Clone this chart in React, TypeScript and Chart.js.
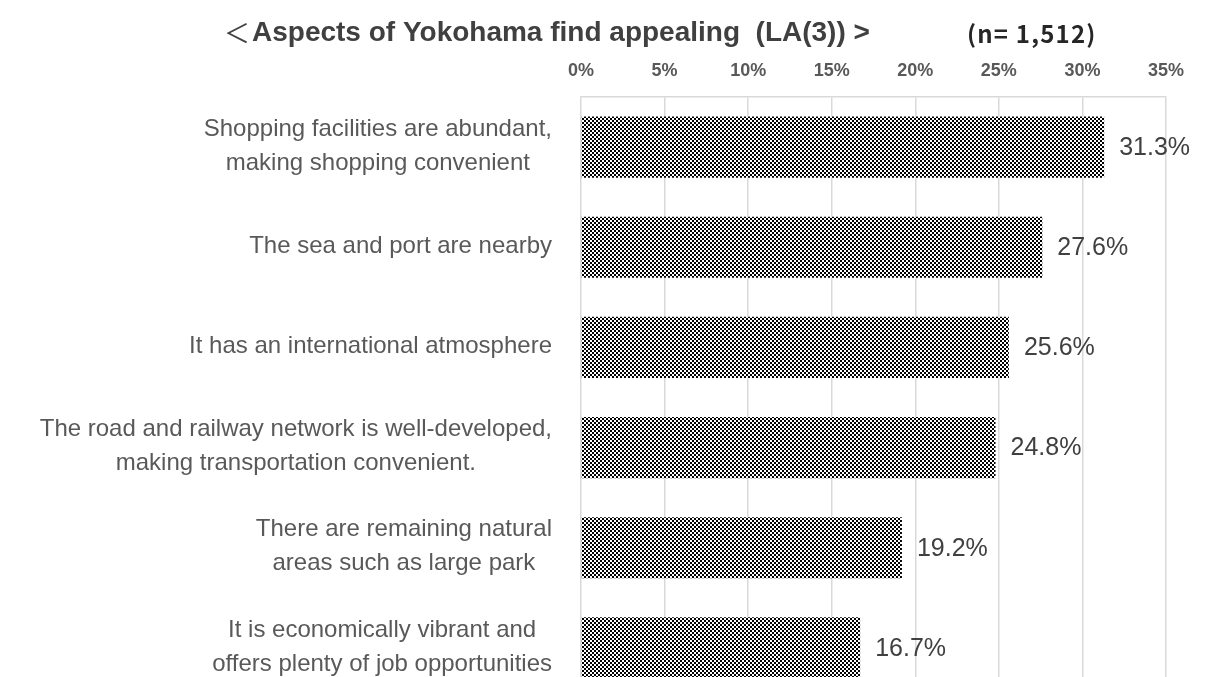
import React, { useEffect, useRef } from "react";
import { Chart, registerables } from "chart.js";

Chart.register(...registerables);

const categories: string[][] = [
  ["Shopping facilities are abundant,", "making shopping convenient"],
  ["The sea and port are nearby"],
  ["It has an international atmosphere"],
  ["The road and railway network is well-developed,", "making transportation convenient."],
  ["There are remaining natural", "areas such as large park"],
  ["It is economically vibrant and", "offers plenty of job opportunities"],
];
const values: number[] = [31.3, 27.6, 25.6, 24.8, 19.2, 16.7];
const xTicks: number[] = [0, 5, 10, 15, 20, 25, 30, 35];
const titleMark = "＜";
const titleText = "Aspects of Yokohama find appealing  (LA(3)) >";
const sampleText = "(n= 1,512)";

const LABEL_FONT = "24px 'Liberation Sans', Arial, sans-serif";
const VALUE_FONT = "25px 'Liberation Sans', Arial, sans-serif";

function makePattern(): CanvasPattern | string {
  const pc = document.createElement("canvas");
  pc.width = 4;
  pc.height = 4;
  const c = pc.getContext("2d");
  if (!c) return "#808080";
  c.fillStyle = "#ffffff";
  c.fillRect(0, 0, 4, 4);
  c.fillStyle = "#000000";
  c.fillRect(0, 0, 2, 2);
  c.fillRect(2, 2, 2, 2);
  const p = c.createPattern(pc, "repeat");
  return p || "#808080";
}

export default function App() {
  const ref = useRef<HTMLCanvasElement | null>(null);

  useEffect(() => {
    const canvas = ref.current;
    if (!canvas) return;
    const pattern = makePattern();

    const decor = {
      id: "decor",
      beforeDraw(chart: any) {
        const ctx = chart.ctx;
        ctx.save();
        ctx.fillStyle = "#ffffff";
        ctx.fillRect(0, 0, chart.width, chart.height);
        ctx.restore();
      },
      afterDatasetsDraw(chart: any) {
        const ctx = chart.ctx;
        const meta = chart.getDatasetMeta(0);
        ctx.save();
        ctx.font = VALUE_FONT;
        ctx.fillStyle = "#404040";
        ctx.textAlign = "left";
        ctx.textBaseline = "middle";
        meta.data.forEach((el: any, i: number) => {
          ctx.fillText(values[i].toFixed(1) + "%", el.x + 15, el.y + 1);
        });
        ctx.restore();
      },
      afterDraw(chart: any) {
        const ctx = chart.ctx;
        const yScale = chart.scales.y;
        ctx.save();
        // category labels
        ctx.font = LABEL_FONT;
        ctx.fillStyle = "#595959";
        ctx.textAlign = "center";
        ctx.textBaseline = "middle";
        const right = 552;
        const lh = 34;
        categories.forEach((lines, i) => {
          const y = yScale.getPixelForValue(i) - 1;
          const maxW = Math.max(...lines.map((l) => ctx.measureText(l).width));
          const cx = right - maxW / 2;
          lines.forEach((line, k) => {
            ctx.fillText(line, cx, y - ((lines.length - 1) * lh) / 2 + k * lh);
          });
        });
        // title
        ctx.textAlign = "left";
        ctx.textBaseline = "middle";
        ctx.fillStyle = "#404040";
        ctx.font = "26px 'Noto Sans CJK JP', sans-serif";
        ctx.fillText(titleMark, 224, 33);
        ctx.font = "bold 28px 'Liberation Sans', Arial, sans-serif";
        ctx.fillText(titleText, 252, 33);
        ctx.fillStyle = "#262626";
        ctx.font = "bold 24px 'Noto Sans CJK JP', sans-serif";
        try {
          (ctx as any).letterSpacing = "1.2px";
        } catch (e) {}
        ctx.fillText(sampleText, 967, 34);
        try {
          (ctx as any).letterSpacing = "0px";
        } catch (e) {}
        ctx.restore();
      },
    };

    const chart = new Chart(canvas, {
      type: "bar",
      data: {
        labels: categories.map((c) => c.join(" ")),
        datasets: [
          {
            data: values,
            backgroundColor: pattern as any,
            borderWidth: 0,
            barPercentage: 0.61,
            categoryPercentage: 1,
          },
        ],
      },
      options: {
        indexAxis: "y",
        animation: false,
        responsive: false,
        maintainAspectRatio: false,
        layout: { padding: { left: 0, right: 48, top: 0, bottom: 2 } },
        plugins: {
          legend: { display: false },
          tooltip: { enabled: false },
          title: { display: false },
        },
        scales: {
          x: {
            position: "top",
            min: 0,
            max: 35,
            afterBuildTicks: (scale: any) => {
              scale.ticks = xTicks.map((v) => ({ value: v }));
            },
            afterFit: (scale: any) => {
              scale.height = 97;
            },
            ticks: {
              padding: 15,
              color: "#595959",
              font: { family: "'Liberation Sans', Arial, sans-serif", size: 18, weight: "bold" },
              callback: (v: any) => v + "%",
            },
            grid: { color: "#d9d9d9", lineWidth: 1.5, drawTicks: false },
            border: { display: true, color: "#d9d9d9", width: 1.5 },
          },
          y: {
            afterFit: (scale: any) => {
              scale.width = 581;
            },
            ticks: { display: false },
            grid: { display: false, drawTicks: false },
            border: { display: false },
          },
        },
      },
      plugins: [decor],
    });
    return () => chart.destroy();
  }, []);

  return (
    <div
      style={{
        position: "fixed",
        left: 0,
        top: 0,
        width: 1214,
        height: 677,
        overflow: "hidden",
        background: "#ffffff",
      }}
    >
      <canvas ref={ref} width={1214} height={700} style={{ display: "block" }} />
    </div>
  );
}
